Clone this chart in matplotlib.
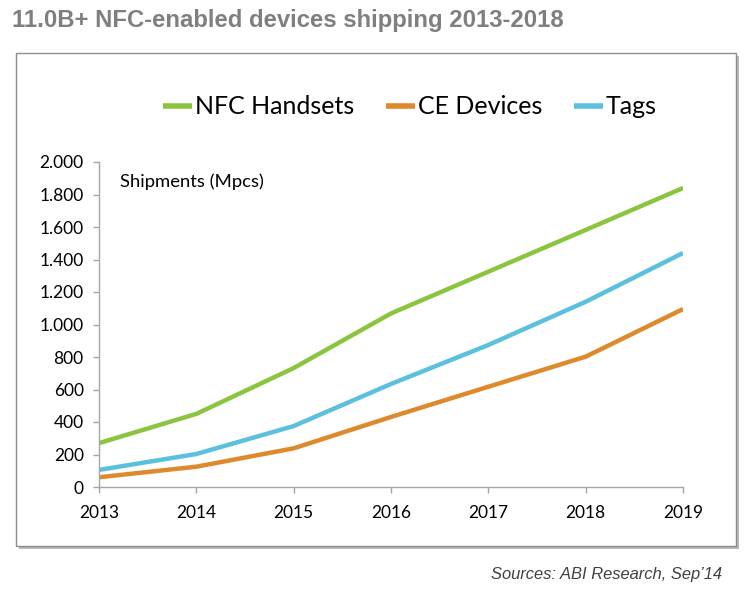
import matplotlib
matplotlib.use("Agg")
import matplotlib.pyplot as plt
from matplotlib.patches import Rectangle
from matplotlib.ticker import FuncFormatter, MultipleLocator

years = [2013, 2014, 2015, 2016, 2017, 2018, 2019]
handsets = [270, 450, 732, 1068, 1325, 1582, 1840]
ce_devices = [60, 125, 238, 431, 617, 802, 1095]
tags = [105, 203, 375, 634, 874, 1140, 1440]
series_names = ["NFC Handsets", "CE Devices", "Tags"]
colors = ["#8BC53F", "#DE8A2C", "#5BC0DE"]

W, H = 748, 591
fig = plt.figure(figsize=(W / 100, H / 100), dpi=100)
fig.patch.set_facecolor("white")

# frame with shadow
fx0, fy0, fx1, fy1 = 16, 53, 736, 546
fig.patches.append(Rectangle(((fx0 + 3) / W, 1 - (fy1 + 3) / H), (fx1 - fx0) / W, (fy1 - fy0) / H,
                             transform=fig.transFigure, facecolor="#b8b8b8", edgecolor="none", zorder=-2))
fig.patches.append(Rectangle((fx0 / W, 1 - fy1 / H), (fx1 - fx0) / W, (fy1 - fy0) / H,
                             transform=fig.transFigure, facecolor="white", edgecolor="#8c8c8c",
                             linewidth=1.0, zorder=-1))

ax = fig.add_axes([99 / W, 1 - 487 / H, (683 - 99) / W, (487 - 162) / H])
ax.set_zorder(2)
ax.set_facecolor("none")
lines = []
for vals, name, c in zip([handsets, ce_devices, tags], series_names, colors):
    ln, = ax.plot(years, vals, color=c, linewidth=3.2, label=name, solid_capstyle="butt")
    lines.append(ln)

ax.set_xlim(2013, 2019)
ax.set_ylim(0, 2000)
ax.yaxis.set_major_locator(MultipleLocator(200))
ax.yaxis.set_major_formatter(FuncFormatter(lambda v, p: f"{v:,.0f}".replace(",", ".")))
ax.set_xticks(years)
for s in ["top", "right"]:
    ax.spines[s].set_visible(False)
for s in ["left", "bottom"]:
    ax.spines[s].set_color("#a6a6a6")
    ax.spines[s].set_linewidth(1.0)
ax.tick_params(axis="both", colors="#a6a6a6", length=4, width=1.0, labelcolor="#000000",
               labelsize=12.5)
ax.tick_params(axis="x", pad=9)
ax.tick_params(axis="y", pad=7)
for lab in ax.get_xticklabels() + ax.get_yticklabels():
    lab.set_fontfamily("Lato")

fig.text(120 / W, 1 - 182 / H, "Shipments (Mpcs)", fontsize=13.3,
         family="Lato", va="center", ha="left", color="#000000", zorder=3)

leg = fig.legend(handles=lines, labels=series_names, loc="center",
                 bbox_to_anchor=(410 / W, 1 - 107 / H), ncol=3, frameon=False,
                 prop={"family": "Lato", "size": 18}, handlelength=1.15, handletextpad=0.1,
                 columnspacing=1.3)
for h in leg.legend_handles:
    h.set_linewidth(4)

fig.text(12 / W, 1 - 21 / H, "11.0B+ NFC-enabled devices shipping 2013-2018",
         family="Liberation Sans", fontweight="bold", fontsize=17.2, color="#7f7f7f",
         ha="left", va="center")
fig.text(722 / W, 1 - 575 / H, "Sources: ABI Research, Sep\u201914",
         family="Liberation Sans", style="italic", fontsize=11.9, color="#404040",
         ha="right", va="center")

fig.savefig("out.png", dpi=100, facecolor="white")
